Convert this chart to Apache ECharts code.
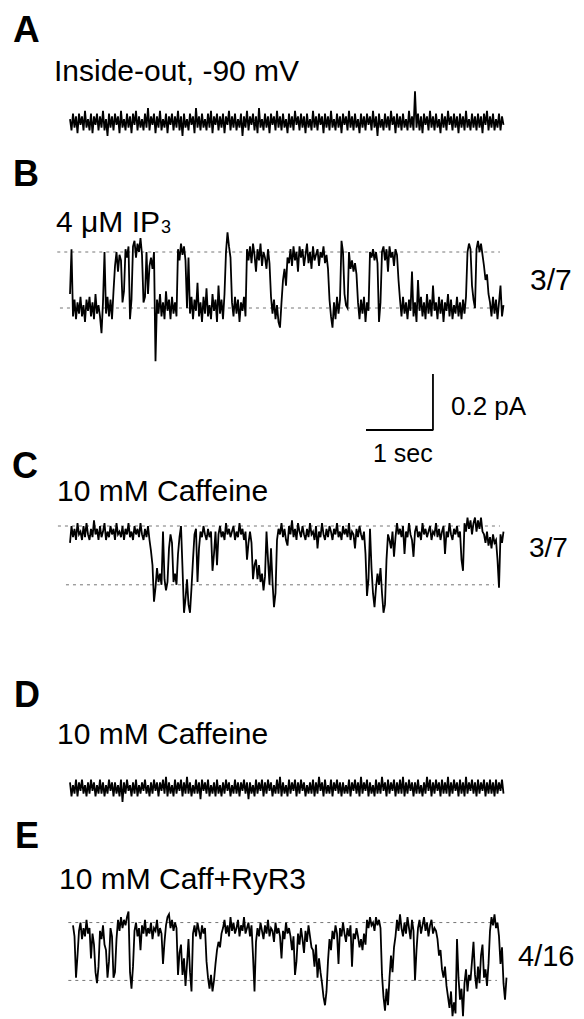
<!DOCTYPE html>
<html>
<head>
<meta charset="utf-8">
<script src="https://cdn.jsdelivr.net/npm/echarts@6/dist/echarts.min.js"></script>
<style>
html, body { margin: 0; background: #fff; }
#chart { width: 584px; height: 1019px; }
</style>
</head>
<body>
<div id="chart"></div>
<script>
// sampling interval of the plotted (decimated) traces, seconds
var dt = 0.0224;

// A: inside-out patch, -90 mV (pA)
var traceA = [
	0.01,-0.03,0.03,-0.02,0.02,-0.04,0.03,-0.01,0.02,-0.03,
	0.04,-0.02,0.01,-0.03,0.03,-0.04,0.02,-0.01,0.03,-0.03,
	0.02,-0.02,0.04,-0.03,0.01,-0.05,0.03,-0.02,0.02,-0.03,
	0.03,-0.01,0.02,-0.04,0.04,-0.02,0.01,-0.03,0.03,-0.02,
	0.02,-0.04,0.03,-0.01,0.04,-0.03,0.02,-0.02,0.01,-0.03,
	0.03,-0.02,0.05,-0.03,0.02,-0.01,0.03,-0.04,0.02,-0.02,
	0.04,-0.03,0.01,-0.02,0.03,-0.04,0.02,-0.01,0.03,-0.03,
	0.02,-0.02,0.04,-0.03,0.02,-0.05,0.03,-0.02,0.01,-0.03,
	0.03,-0.01,0.02,-0.04,0.05,-0.02,0.02,-0.03,0.03,-0.02,
	0.01,-0.03,0.03,-0.02,0.04,-0.04,0.02,-0.01,0.03,-0.03,
	0.02,-0.02,0.03,-0.04,0.02,-0.01,0.04,-0.03,0.02,-0.02,
	0.03,-0.03,0.01,-0.02,0.03,-0.05,0.02,-0.02,0.04,-0.03,
	0.02,-0.01,0.03,-0.03,0.02,-0.04,0.05,-0.02,0.01,-0.03,
	0.03,-0.02,0.02,-0.04,0.03,-0.01,0.02,-0.03,0.04,-0.02,
	0.02,-0.03,0.03,-0.02,0.01,-0.04,0.03,-0.02,0.02,-0.03,
	0.04,-0.01,0.02,-0.03,0.03,-0.02,0.02,-0.04,0.03,-0.02,
	0.01,-0.03,0.04,-0.02,0.02,-0.03,0.03,-0.01,0.02,-0.04,
	0.03,-0.02,0.02,-0.03,0.04,-0.02,0.01,-0.03,0.03,-0.02,
	0.02,-0.04,0.03,-0.01,0.02,-0.03,0.04,-0.02,0.02,-0.03,
	0.03,-0.02,0.01,-0.04,0.03,-0.02,0.02,-0.03,0.03,-0.01,
	0.02,-0.03,0.04,-0.02,0.02,-0.05,0.03,-0.02,0.01,-0.03,
	0.03,-0.02,0.02,-0.03,0.04,-0.01,0.02,-0.04,0.03,-0.02,
	0.02,-0.03,0.03,-0.02,0.01,-0.03,0.04,-0.02,0.02,-0.03,
	0.11,-0.02,0.03,-0.03,0.02,-0.04,0.03,-0.01,0.02,-0.03,
	0.04,-0.02,0.02,-0.03,0.03,-0.02,0.01,-0.04,0.03,-0.02,
	0.02,-0.03,0.04,-0.01,0.02,-0.03,0.03,-0.02,0.02,-0.04,
	0.03,-0.02,0.02,-0.03,0.04,-0.02,0.01,-0.03,0.03,-0.02,
	0.02,-0.03,0.03,-0.02,0.02,-0.04,0.03,-0.01,0.04,-0.03,
	0.02,-0.02,0.03,-0.03,0.01,-0.02,0.03,-0.03,0.02,-0.01
];

// B: 4 uM IP3 (pA), openings upward
var traceB = [
	0.05,0.21,-0.03,0.03,-0.04,0.02,-0.02,0.04,-0.03,0.01,
	-0.05,0.03,-0.01,0.04,-0.03,0.02,-0.04,0.05,-0.02,0.01,
	-0.03,-0.09,0.02,0.20,-0.02,0.04,-0.03,0.03,-0.04,0.06,
	0.15,0.20,0.13,0.19,0.17,0.02,0.06,0.21,0.18,0.22,
	-0.04,0.03,0.22,0.24,0.18,0.23,0.20,0.25,0.19,0.02,
	0.04,0.20,0.05,0.15,0.18,0.14,0.20,-0.19,0.03,-0.02,
	0.05,-0.03,0.02,-0.04,0.06,-0.01,0.03,-0.04,0.04,-0.02,
	0.02,-0.03,0.21,0.17,0.23,0.19,0.22,0.17,0.00,0.18,
	-0.02,0.04,-0.04,0.03,-0.01,0.09,-0.03,0.02,-0.05,0.04,
	-0.02,0.07,-0.03,0.01,-0.04,0.05,-0.01,0.03,-0.05,0.08,
	-0.02,0.03,-0.04,0.05,0.20,0.27,0.22,0.18,0.02,-0.03,
	0.04,-0.02,0.03,-0.05,0.02,-0.01,0.04,-0.03,0.21,0.17,
	0.22,0.16,0.23,0.19,0.13,0.21,0.17,0.23,0.15,0.20,
	0.18,0.14,0.21,0.16,0.04,-0.02,0.03,-0.04,0.01,-0.05,
	-0.07,0.02,0.10,0.14,0.08,0.18,0.16,0.21,0.15,0.22,
	0.17,0.20,0.13,0.22,0.18,0.21,0.15,0.19,0.23,0.16,
	0.20,0.14,0.22,0.17,0.19,0.21,0.15,0.20,0.18,0.22,
	0.16,0.19,0.14,0.03,-0.03,-0.07,0.02,-0.04,0.04,-0.02,
	0.03,0.24,0.20,0.05,0.01,0.00,0.20,0.14,0.17,0.13,
	0.16,0.12,0.02,-0.04,0.03,-0.02,0.04,-0.05,0.02,-0.01,
	0.20,0.18,0.21,0.17,0.20,0.16,-0.05,0.02,0.20,0.22,
	0.17,0.21,0.13,0.22,0.18,0.20,0.15,0.21,0.19,0.10,
	0.03,-0.03,0.04,-0.02,0.02,-0.04,0.03,-0.01,0.13,-0.03,
	0.02,-0.05,0.10,-0.01,0.04,-0.03,0.02,-0.04,0.05,-0.02,
	0.03,-0.03,0.08,-0.01,0.02,-0.04,0.04,-0.02,0.03,-0.05,
	0.02,-0.01,0.05,-0.03,0.03,-0.04,0.01,-0.02,0.04,-0.03,
	0.02,-0.04,0.03,-0.02,0.04,0.20,0.23,0.21,0.08,0.03,
	0.00,0.21,0.24,0.20,0.23,0.19,0.15,0.10,0.12,0.05,
	0.02,-0.03,0.04,-0.02,0.03,-0.04,0.02,0.08,-0.03,0.01
];

// C: 10 mM caffeine (pA), openings downward
var traceC = [
	-0.06,0.00,-0.04,-0.01,-0.05,0.01,-0.03,-0.02,-0.05,0.00,
	-0.04,0.01,-0.03,-0.05,-0.01,-0.04,0.02,-0.03,-0.01,-0.05,
	0.00,-0.04,-0.02,0.01,-0.05,-0.02,-0.04,0.00,-0.03,-0.01,
	-0.05,0.01,-0.03,-0.02,-0.04,0.00,-0.05,-0.01,-0.03,0.01,
	-0.04,-0.02,-0.05,0.00,-0.03,-0.01,-0.04,0.01,-0.03,-0.05,
	-0.01,-0.04,0.00,
	-0.05,-0.09,-0.14,
	-0.27,-0.22,
	-0.15,-0.20,-0.17,-0.21,
	-0.02,
	-0.19,-0.23,-0.20,
	-0.08,-0.03,
	-0.06,-0.20,-0.17,-0.21,-0.10,
	-0.04,0.00,
	-0.15,-0.31,-0.26,-0.19,
	-0.28,-0.31,-0.22,-0.12,
	-0.03,-0.01,
	-0.20,-0.08,
	-0.02,-0.04,0.00,-0.03,-0.05,-0.01,-0.04,-0.02,
	-0.16,-0.10,
	-0.02,-0.14,
	-0.03,0.00,-0.04,-0.02,-0.05,0.01,-0.03,-0.01,-0.04,-0.02,
	0.00,-0.05,-0.02,-0.04,0.01,-0.03,-0.01,-0.05,-0.02,
	-0.12,-0.06,
	-0.02,-0.06,
	-0.19,-0.14,
	-0.12,-0.19,-0.14,-0.20,-0.17,
	-0.23,-0.18,
	-0.02,
	-0.12,-0.21,
	-0.08,-0.20,
	-0.29,-0.24,
	-0.05,-0.01,
	-0.03,0.01,-0.04,-0.01,-0.05,-0.07,0.00,-0.03,0.02,-0.04,
	-0.01,-0.05,0.01,-0.02,-0.04,0.00,-0.03,-0.05,-0.01,-0.04,
	0.01,-0.03,-0.02,-0.05,0.00,-0.08,-0.02,-0.04,0.01,-0.03,
	-0.05,-0.01,-0.04,0.00,-0.02,-0.05,-0.01,-0.03,0.01,-0.04,
	-0.02,-0.05,0.00,-0.03,-0.01,-0.04,0.01,-0.05,-0.02,-0.03,
	-0.08,-0.01,-0.04,0.00,-0.03,-0.05,-0.02,
	-0.10,-0.25,-0.19,
	-0.01,
	-0.15,-0.24,
	-0.29,-0.22,
	-0.17,-0.21,-0.15,-0.24,
	-0.31,-0.28,
	-0.12,
	-0.03,-0.05,
	-0.08,-0.02,-0.11,-0.04,0.01,
	-0.03,-0.01,-0.04,0.00,-0.10,-0.02,-0.04,0.01,-0.03,-0.05,-0.11,-0.02,
	0.00,-0.04,-0.02,-0.05,0.01,-0.03,-0.01,-0.04,-0.02,0.00,
	-0.05,-0.02,-0.03,0.01,-0.04,-0.01,-0.05,-0.02,0.00,
	-0.10,
	-0.02,-0.04,0.01,-0.03,-0.05,-0.01,-0.03,0.00,-0.04,-0.02,
	-0.12,-0.16,
	0.01,-0.02,0.03,-0.01,0.02,-0.03,0.01,0.03,-0.02,0.02,-0.01,0.03,-0.02,
	-0.03,-0.06,-0.02,-0.07,-0.04,-0.08,-0.03,-0.06,-0.05,
	-0.12,-0.22,
	-0.03,-0.06,-0.02
];

// D: 10 mM caffeine, no channel activity (pA)
var traceD = [
	0.02,-0.03,0.01,-0.02,0.03,-0.03,0.02,-0.01,0.03,-0.02,
	0.01,-0.03,0.02,-0.02,0.03,-0.01,0.02,-0.03,0.01,-0.02,
	0.03,-0.02,0.02,-0.03,0.01,-0.02,0.03,-0.01,0.02,-0.03,
	0.02,-0.02,0.01,-0.03,0.03,-0.05,0.02,-0.02,0.03,-0.01,
	0.01,-0.03,0.02,-0.02,0.03,-0.03,0.01,-0.02,0.02,-0.01,
	0.03,-0.02,0.01,-0.03,0.02,-0.02,0.03,-0.01,0.02,-0.03,
	0.02,-0.01,0.03,-0.02,0.04,-0.03,0.02,-0.02,0.01,-0.03,
	0.03,-0.02,0.02,-0.01,0.03,-0.03,0.02,-0.02,0.04,-0.02,
	0.02,-0.03,0.01,-0.02,0.03,-0.02,0.02,-0.04,0.03,-0.01,
	0.02,-0.02,0.03,-0.03,0.01,-0.02,0.02,-0.03,0.03,-0.02,
	0.01,-0.03,0.02,-0.02,0.03,-0.01,0.02,-0.03,0.01,-0.02,
	0.03,-0.02,0.02,-0.03,0.02,-0.01,0.03,-0.02,0.02,-0.04,
	0.02,-0.02,0.01,-0.03,0.03,-0.02,0.02,-0.01,0.03,-0.03,
	0.02,-0.02,0.03,-0.01,0.02,-0.03,0.01,-0.02,0.03,-0.02,
	0.04,-0.03,0.02,-0.02,0.01,-0.03,0.03,-0.02,0.02,-0.01,
	0.03,-0.03,0.02,-0.02,0.03,-0.01,0.02,-0.03,0.01,-0.02,
	0.02,-0.02,0.03,-0.03,0.02,-0.02,0.04,-0.01,0.02,-0.03,
	0.03,-0.02,0.01,-0.02,0.03,-0.03,0.02,-0.01,0.03,-0.02,
	0.02,-0.03,0.02,-0.02,0.01,-0.02,0.03,-0.03,0.02,-0.01,
	0.03,-0.02,0.02,-0.03,0.04,-0.02,0.02,-0.01,0.03,-0.03,
	0.02,-0.02,0.01,-0.03,0.03,-0.02,0.02,-0.02,0.04,-0.01,
	0.02,-0.03,0.03,-0.02,0.02,-0.01,0.03,-0.03,0.02,-0.02,
	0.03,-0.02,0.04,-0.03,0.02,-0.02,0.03,-0.01,0.02,-0.03,
	0.02,-0.02,0.03,-0.02,0.01,-0.03,0.02,-0.02,0.04,-0.01,
	0.03,-0.03,0.02,-0.02,0.03,-0.01,0.02,-0.03,0.03,-0.02,
	0.02,-0.02,0.04,-0.03,0.02,-0.02,0.03,-0.01,0.02,-0.03,
	0.03,-0.02,0.02,-0.03,0.04,-0.02,0.02,-0.01,0.03,-0.02,
	0.02,-0.03,0.03,-0.02,0.02,-0.01,0.03,-0.03,0.02,-0.02,
	0.03,-0.02,0.02,-0.03,0.03,-0.02,0.02,-0.01,0.03,-0.02
];

// E: 10 mM caffeine + RyR3 (pA), openings downward
var traceE = [
	-0.01,-0.05,
	-0.20,-0.12,
	-0.03,0.00,-0.06,-0.02,-0.05,0.01,-0.04,-0.02,
	-0.13,
	-0.04,-0.08,
	-0.18,-0.22,-0.16,
	-0.03,-0.06,-0.01,
	-0.08,-0.10,
	-0.20,-0.14,
	-0.02,-0.05,
	-0.20,-0.18,
	-0.06,
	0.01,-0.03,0.02,-0.02,0.01,-0.01,0.02,0.04,
	-0.18,-0.24,-0.16,
	-0.03,0.00,-0.05,-0.02,-0.10,-0.01,-0.04,0.01,-0.05,-0.02,
	-0.04,0.00,-0.06,-0.02,-0.03,0.01,-0.05,-0.02,-0.04,
	-0.15,-0.07,
	-0.01,0.02,0.03,-0.02,0.01,-0.03,0.00,-0.02,
	-0.19,-0.11,
	-0.08,-0.19,-0.13,
	-0.23,-0.15,
	-0.06,
	-0.18,-0.25,
	-0.04,-0.01,-0.05,0.00,-0.03,-0.06,-0.01,-0.04,-0.02,
	-0.14,-0.20,-0.24,-0.19,-0.25,-0.21,-0.15,
	-0.10,-0.07,-0.09,-0.04,
	-0.02,0.01,-0.04,-0.01,-0.05,0.02,-0.03,0.00,-0.04,-0.02,
	0.01,-0.05,-0.01,-0.03,0.02,-0.04,-0.02,0.00,-0.05,-0.01,
	-0.12,-0.25,-0.07,
	-0.02,-0.05,0.00,-0.03,-0.06,-0.01,-0.04,0.01,-0.05,-0.02,
	-0.03,-0.07,0.00,-0.04,-0.02,-0.05,-0.13,-0.03,-0.06,0.00,
	-0.04,-0.02,-0.05,
	-0.10,-0.05,
	-0.19,-0.14,
	-0.04,-0.08,-0.02,-0.06,-0.11,-0.03,-0.07,-0.01,-0.05,-0.09,
	-0.10,-0.16,-0.08,-0.20,
	-0.13,-0.18,-0.22,
	-0.27,-0.30,-0.25,
	-0.14,-0.06,-0.10,
	-0.03,-0.06,-0.01,-0.04,-0.15,-0.02,-0.05,0.00,-0.04,-0.07,
	-0.02,-0.05,-0.01,-0.16,-0.04,-0.06,-0.02,
	-0.05,-0.09,-0.06,-0.10,-0.04,-0.08,
	0.01,-0.02,0.02,-0.01,0.00,-0.03,0.02,-0.01,0.01,-0.02,
	-0.19,-0.27,-0.32,-0.24,-0.30,-0.20,
	-0.12,-0.18,-0.09,-0.05,
	0.01,-0.03,0.03,-0.02,-0.05,0.00,-0.04,0.02,-0.02,-0.06,0.01,-0.03,
	-0.21,-0.10,
	-0.02,0.01,-0.04,-0.01,0.02,-0.03,0.00,-0.05,-0.01,0.01,-0.04,-0.02,-0.03,
	-0.06,-0.12,-0.10,-0.17,
	-0.20,-0.16,-0.23,
	-0.27,-0.31,-0.25,-0.34,-0.29,-0.33,
	-0.06,
	-0.20,-0.28,-0.24,-0.34,
	-0.22,-0.17,-0.25,-0.19,
	-0.21,-0.14,-0.07,-0.19,-0.24,-0.16,-0.22,-0.12,-0.08,-0.20,-0.17,-0.23,-0.15,
	-0.03,0.02,-0.01,0.03,-0.02,0.00,
	-0.05,-0.15,-0.09,
	-0.22,-0.28,-0.20
];

// current levels (pA) marked by dotted guides, and their time extents (s)
var levelsB = [0.2, 0];
var spansB = [[-0.19, 6.42], [-0.15, 6.5]];
var levelsC = [0, -0.21];
var spansC = [[-0.18, 6.42], [-0.06, 6.33]];
var levelsE = [0, -0.21];
var spansE = [[-0.07, 6.23], [-0.07, 6.33]];

// scale bar
var barSec = 1;
var barPA = 0.2;

// panel labels
var panelLetters = ["A", "B", "C", "D", "E"];
var conditions = ["Inside-out, -90 mV", "4 μM IP", "10 mM Caffeine", "10 mM Caffeine", "10 mM Caff+RyR3"];
var ratios = ["3/7", "3/7", "4/16"];

var FONT = '"Liberation Sans", Arial, Helvetica, sans-serif';
var pxPerSec = 1.5 / dt;

function toXY(arr) {
	return arr.map(function (v, i) {
		return [i * dt, v];
	});
}

// one grid per trace, same time and current scale in all of them
var panels = [
	{ data: traceA, left: 70, top: 80, height: 84, min: -0.15, max: 0.15 },
	{ data: traceB, left: 70, top: 210, height: 168, min: -0.25, max: 0.35 },
	{ data: traceC, left: 70, top: 498, height: 126, min: -0.35, max: 0.1 },
	{ data: traceD, left: 70, top: 746, height: 84, min: -0.15, max: 0.15 },
	{ data: traceE, left: 73, top: 895, height: 126, min: -0.35, max: 0.1 }
];

var grid = [];
var xAxis = [];
var yAxis = [];
var series = [];

panels.forEach(function (p, k) {
	grid.push({
		left: p.left - 0.25 * pxPerSec,
		top: p.top,
		width: 6.75 * pxPerSec,
		height: p.height
	});
	xAxis.push({ gridIndex: k, type: "value", min: -0.25, max: 6.5, show: false });
	yAxis.push({ gridIndex: k, type: "value", min: p.min, max: p.max, show: false });
});

function guides(axis, levels, spans) {
	levels.forEach(function (lv, j) {
		series.push({
			type: "line",
			xAxisIndex: axis,
			yAxisIndex: axis,
			data: [[spans[j][0], lv], [spans[j][1], lv]],
			symbol: "none",
			silent: true,
			lineStyle: { color: "#666", width: 0.9, type: [3, 4] }
		});
	});
}
guides(1, levelsB, spansB);
guides(2, levelsC, spansC);
guides(4, levelsE, spansE);

panels.forEach(function (p, k) {
	series.push({
		type: "line",
		xAxisIndex: k,
		yAxisIndex: k,
		data: toXY(p.data),
		symbol: "none",
		silent: true,
		lineStyle: { color: "#000", width: 1.8, join: "miter" }
	});
});

// scale bar grid
grid.push({ left: 366, top: 374, width: barSec * pxPerSec, height: 56 });
xAxis.push({ gridIndex: 5, type: "value", min: 0, max: barSec, show: false });
yAxis.push({ gridIndex: 5, type: "value", min: 0, max: barPA, show: false });
series.push({
	type: "line",
	xAxisIndex: 5,
	yAxisIndex: 5,
	data: [[0, 0], [barSec, 0], [barSec, barPA]],
	symbol: "none",
	silent: true,
	clip: false,
	lineStyle: { color: "#000", width: 1.8 }
});

function label(text, x, y, size, weight) {
	return {
		type: "text",
		x: x,
		y: y,
		silent: true,
		style: {
			text: text,
			font: (weight || "normal") + " " + size + "px " + FONT,
			fill: "#000",
			align: "left",
			verticalAlign: "middle",
			textAlign: "left",
			textVerticalAlign: "middle"
		}
	};
}

var graphic = [
	label(panelLetters[0], 13, 29, 37, "bold"),
	label(panelLetters[1], 13, 173, 36, "bold"),
	label(panelLetters[2], 12, 465, 36, "bold"),
	label(panelLetters[3], 14, 694, 36, "bold"),
	label(panelLetters[4], 15, 835, 36, "bold"),
	label(conditions[0], 54, 70, 30),
	label(conditions[1], 56, 221, 30),
	label("3", 161, 227, 18),
	label(conditions[2], 57, 490, 30),
	label(conditions[3], 57, 733, 30),
	label(conditions[4], 59, 878, 30),
	label(ratios[0], 530, 279, 30),
	label(ratios[1], 529, 547, 28),
	label(ratios[2], 518, 956, 29),
	label(barPA + " pA", 451, 406, 26),
	label(barSec + " sec", 373, 453, 25)
];

var chart = echarts.init(document.getElementById("chart"), null, { renderer: "svg" });
chart.setOption({
	animation: false,
	backgroundColor: "#fff",
	grid: grid,
	xAxis: xAxis,
	yAxis: yAxis,
	series: series,
	graphic: graphic
});
window.addEventListener("resize", chart.resize);
</script>
</body>
</html>
